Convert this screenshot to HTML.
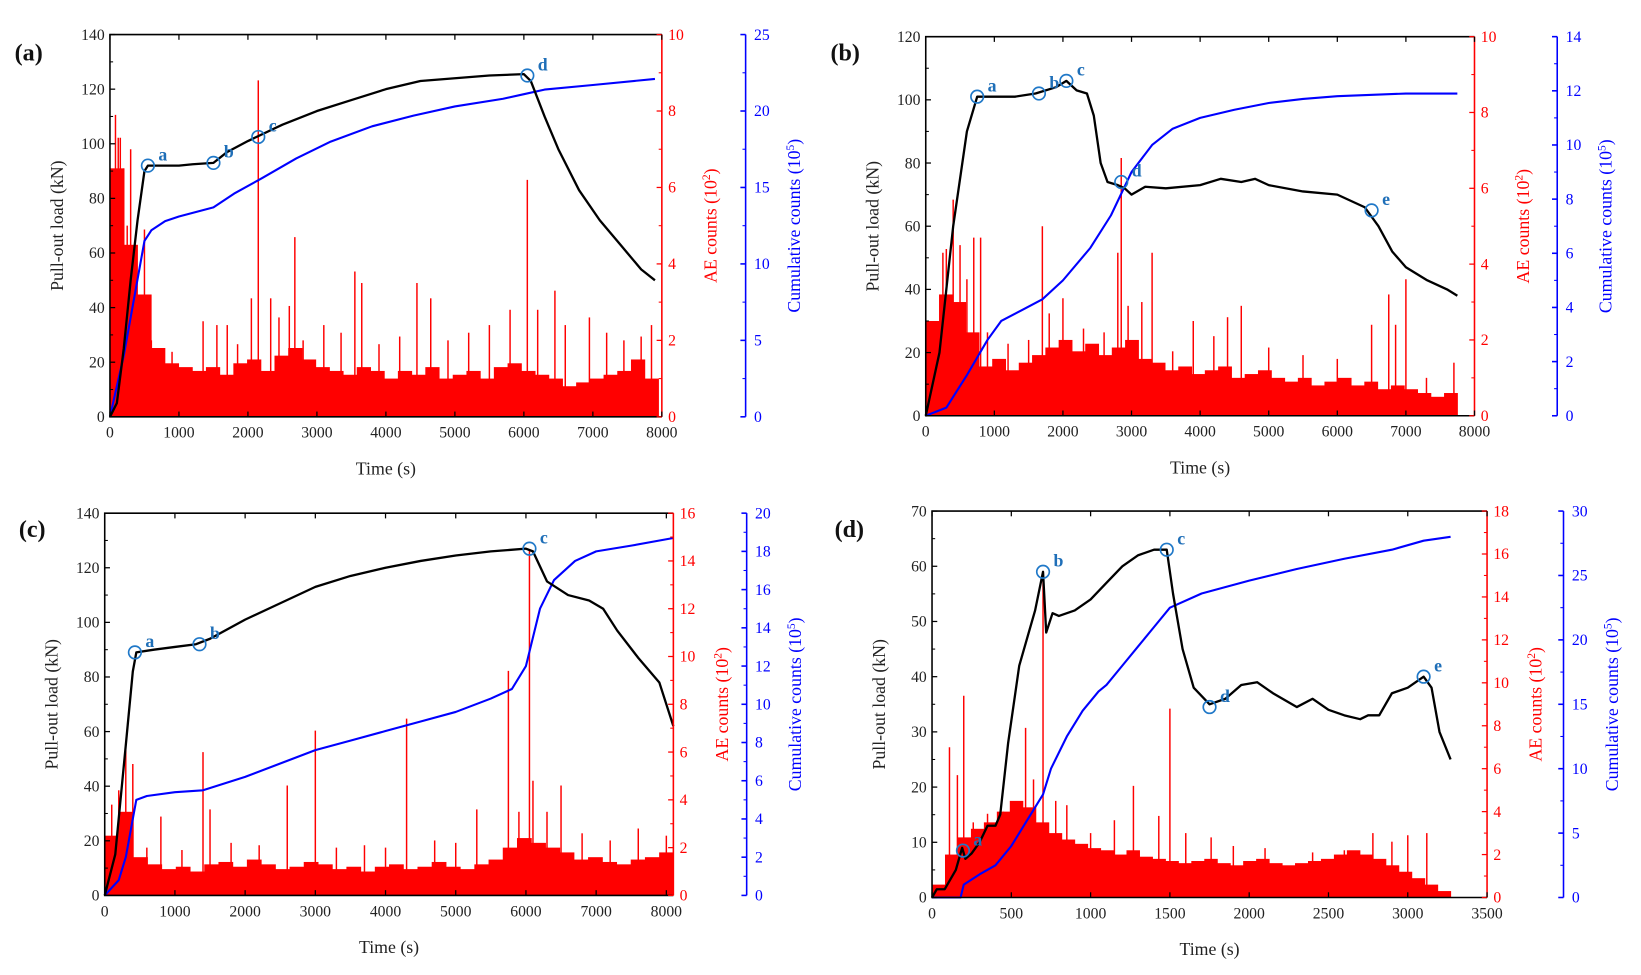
<!DOCTYPE html>
<html><head><meta charset="utf-8">
<style>
html,body{margin:0;padding:0;background:#fff;}
svg{display:block;font-family:"Liberation Serif",serif;}
</style></head>
<body>
<svg id="fig" width="1641" height="975" viewBox="0 0 1567 931" preserveAspectRatio="none"></svg>
<script>
// ---------- Panel (a) data ----------
const aLoad = [[0,0],[100,5],[200,25],[300,50],[400,72],[500,90],[550,92],[800,92],[1000,92],[1200,92.5],[1500,93],[1700,97],[2000,101],[2500,107],[3000,112],[3500,116],[4000,120],[4500,123],[5000,124],[5500,125],[6000,125.5],[6100,123],[6300,110],[6500,98],[6800,83],[7100,72],[7400,63],[7700,54],[7900,50]];
const aCum = [[0,0],[100,2],[200,4],[300,6.5],[400,9],[500,11.5],[600,12.2],[800,12.8],[1000,13.1],[1500,13.7],[1800,14.6],[2200,15.6],[2700,16.9],[3200,18],[3800,19],[4400,19.7],[5000,20.3],[5700,20.8],[6000,21.1],[6300,21.4],[7000,21.7],[7900,22.1]];
const aBase = [6.5,4.5,3.2,1.8,1.4,1.3,1.2,1.3,1.1,1.4,1.5,1.2,1.6,1.8,1.5,1.3,1.2,1.1,1.3,1.2,1.0,1.2,1.1,1.3,1.0,1.1,1.2,1.0,1.3,1.4,1.2,1.1,1.0,0.8,0.9,1.0,1.1,1.2,1.5,1.0];
const aSpikes = [[40,5.5],[80,7.9],[120,7.3],[150,7.3],[200,6.5],[250,5.0],[300,7.0],[350,4.0],[500,4.9],[600,2.0],[750,1.8],[900,1.7],[1350,2.5],[1550,2.4],[1700,2.4],[1850,1.9],[2050,3.1],[2150,8.8],[2330,3.1],[2450,2.6],[2600,2.9],[2680,4.7],[2800,2.0],[3100,2.4],[3350,2.2],[3550,3.8],[3650,3.5],[3900,1.9],[4200,2.1],[4450,3.5],[4650,3.1],[4900,2.0],[5200,2.2],[5500,2.4],[5800,2.8],[6050,6.2],[6200,2.8],[6450,3.3],[6600,2.4],[6950,2.6],[7200,2.2],[7450,2.0],[7700,2.1],[7850,2.4]];
const aMarks = [["a",550,92],["b",1500,93],["c",2150,102.5],["d",6050,125]];
const aLeftTicks = [0,20,40,60,80,100,120,140];
const aRedTicks = [0,2,4,6,8,10];
const aBlueTicks = [0,5,10,15,20,25];
const aXTicks = [0,1000,2000,3000,4000,5000,6000,7000,8000];

// ---------- Panel (b) data ----------
const bLoad = [[0,0],[200,20],[400,60],[600,90],[750,101],[1000,101],[1300,101],[1600,102],[1900,104],[2050,106],[2200,103],[2350,102],[2450,95],[2550,80],[2650,74],[2800,73],[2900,72],[3000,70],[3200,72.5],[3500,72],[4000,73],[4300,75],[4600,74],[4800,75],[5000,73],[5500,71],[6000,70],[6400,66],[6600,60],[6800,52],[7000,47],[7300,43],[7600,40],[7750,38]];
const bCum = [[0,0],[300,0.3],[600,1.5],[900,2.8],[1100,3.5],[1400,3.9],[1700,4.3],[2000,5],[2400,6.2],[2700,7.4],[3000,9],[3300,10],[3600,10.6],[4000,11],[4500,11.3],[5000,11.55],[5500,11.7],[6000,11.8],[7000,11.9],[7750,11.9]];
const bBase = [2.5,3.2,3.0,2.2,1.3,1.5,1.2,1.4,1.6,1.8,2.0,1.7,1.9,1.6,1.8,2.0,1.5,1.4,1.2,1.3,1.1,1.2,1.3,1.0,1.1,1.2,1.0,0.9,1.0,0.8,0.9,1.0,0.8,0.9,0.7,0.8,0.7,0.6,0.5,0.6];
const bSpikes = [[100,1.6],[250,4.3],[300,4.4],[400,5.7],[500,4.5],[600,3.6],[700,4.7],[800,4.7],[900,2.2],[1200,1.9],[1500,2.0],[1700,5],[1800,2.7],[2000,3.1],[2300,2.3],[2600,2.2],[2800,4.3],[2850,6.8],[2950,2.9],[3150,3.0],[3300,4.3],[3600,1.7],[3900,2.5],[4200,2.1],[4400,2.6],[4600,2.9],[5000,1.8],[5500,1.6],[6000,1.5],[6500,2.4],[6750,3.2],[6850,2.4],[7000,3.6],[7300,1.0],[7700,1.4]];
const bMarks = [["a",750,101],["b",1650,102],["c",2050,106],["d",2850,74],["e",6500,65]];
const bLeftTicks = [0,20,40,60,80,100,120];
const bRedTicks = [0,2,4,6,8,10];
const bBlueTicks = [0,2,4,6,8,10,12,14];
const bXTicks = [0,1000,2000,3000,4000,5000,6000,7000,8000];

// ---------- Panel (c) data ----------
const cLoad = [[0,0],[150,15],[300,55],[400,82],[450,89],[700,90],[1000,91],[1300,92],[1500,94],[2000,101],[2500,107],[3000,113],[3500,117],[4000,120],[4500,122.5],[5000,124.5],[5500,126],[6000,127],[6100,126],[6300,115],[6600,110],[6900,108],[7100,105],[7300,97],[7600,87],[7900,78],[8100,62]];
const cCum = [[0,0],[200,0.8],[300,2],[400,4],[450,5],[600,5.2],[1000,5.4],[1400,5.5],[2000,6.2],[2500,6.9],[3000,7.6],[3500,8.1],[4000,8.6],[4500,9.1],[5000,9.6],[5500,10.3],[5800,10.8],[6000,12],[6200,15],[6400,16.5],[6700,17.5],[7000,18],[7500,18.3],[8100,18.7]];
const cBase = [2.5,3.5,1.6,1.3,1.1,1.2,1.0,1.3,1.4,1.2,1.5,1.3,1.1,1.2,1.4,1.3,1.1,1.2,1.0,1.2,1.3,1.1,1.2,1.4,1.2,1.1,1.3,1.5,2.0,2.4,2.2,2.0,1.8,1.5,1.6,1.4,1.3,1.5,1.6,1.8];
const cSpikes = [[100,3.8],[200,4.4],[300,6.2],[400,5.5],[600,2.0],[800,3.3],[1100,1.9],[1400,6],[1500,3.6],[1800,2.2],[2200,2.1],[2600,4.6],[3000,6.9],[3300,2.0],[3700,2.1],[4000,2.0],[4300,7.4],[4700,2.3],[5000,2.2],[5300,3.6],[5750,9.4],[5900,3.5],[6050,14.5],[6100,4.8],[6300,3.5],[6500,4.6],[6800,2.6],[7200,2.3],[7600,2.8],[8000,2.5]];
const cMarks = [["a",430,89],["b",1350,92],["c",6050,127]];
const cLeftTicks = [0,20,40,60,80,100,120,140];
const cRedTicks = [0,2,4,6,8,10,12,14,16];
const cBlueTicks = [0,2,4,6,8,10,12,14,16,18,20];
const cXTicks = [0,1000,2000,3000,4000,5000,6000,7000,8000];

// ---------- Panel (d) data ----------
const dLoad = [[0,0],[30,1.5],[80,1.5],[150,5],[190,9],[210,7],[250,8],[300,10],[350,13],[400,13],[430,15],[480,28],[550,42],[650,52],[700,59],[720,48],[760,51.5],[800,51],[900,52],[1000,54],[1100,57],[1200,60],[1300,62],[1400,63],[1480,63],[1520,55],[1580,45],[1650,38],[1750,35],[1850,36],[1950,38.5],[2050,39],[2150,37],[2300,34.5],[2400,36],[2500,34],[2600,33],[2700,32.3],[2750,33],[2820,33],[2900,37],[3000,38],[3100,40],[3150,38],[3200,30],[3270,25]];
const dCum = [[0,0],[180,0],[200,1],[300,1.8],[400,2.5],[500,4],[600,6],[700,8],[750,10],[850,12.5],[950,14.5],[1050,16],[1100,16.5],[1200,18],[1300,19.5],[1400,21],[1500,22.5],[1700,23.6],[2000,24.6],[2300,25.5],[2600,26.3],[2900,27],[3100,27.7],[3270,28]];
const dBase = [0.6,2.0,2.8,3.2,3.5,4.0,4.5,4.2,3.5,3.0,2.7,2.5,2.3,2.2,2.0,2.2,1.9,1.8,1.7,1.6,1.7,1.8,1.6,1.5,1.7,1.8,1.6,1.5,1.6,1.7,1.8,2.0,2.2,2.0,1.8,1.5,1.2,0.9,0.6,0.3];
const dSpikes = [[110,7],[160,5.7],[200,9.4],[260,3.5],[350,3.9],[450,4.0],[590,7.9],[640,5.5],[700,15.2],[780,4.5],[850,4.3],[1000,3.0],[1150,3.6],[1270,5.2],[1430,3.8],[1500,8.8],[1600,3.0],[1760,2.8],[1900,2.4],[2100,2.3],[2400,2.1],[2600,2.2],[2780,3],[2900,2.6],[3000,2.9],[3120,3]];
const dMarks = [["a",195,8.5],["b",700,59],["c",1480,63],["d",1750,34.5],["e",3100,40]];
const dLeftTicks = [0,10,20,30,40,50,60,70];
const dRedTicks = [0,2,4,6,8,10,12,14,16,18];
const dBlueTicks = [0,5,10,15,20,25,30];
const dXTicks = [0,500,1000,1500,2000,2500,3000,3500];

const NS = "http://www.w3.org/2000/svg";
const svg = document.getElementById("fig");
function mk(tag, attrs, parent){
  const e = document.createElementNS(NS, tag);
  for (const k in attrs) e.setAttribute(k, attrs[k]);
  (parent||svg).appendChild(e);
  return e;
}

function drawPanel(P){
  const g = mk("g", {});
  
  
  const xs = t => P.x0 + t / P.xmax * (P.x1 - P.x0);
  const yL = v => P.y1 - v / P.lmax * (P.y1 - P.y0);
  const yR = v => P.y1 - v / P.rmax * (P.y1 - P.y0);
  const yB = v => P.y1 - v / P.bmax * (P.y1 - P.y0);

  const n = P.base.length, bw = P.tEnd / n;
  P.base.forEach((v, i) => {
    const xa = xs(i * bw), xb = xs((i + 1) * bw);
    const r = mk("rect", {x: xa, y: yR(v), width: xb - xa + 0.5, height: P.y1 - yR(v), fill: "#ff0000"}, g);
    
    
  });
  P.spikes.forEach(s => {
    const l = mk("line", {x1: xs(s[0]), x2: xs(s[0]), y1: P.y1, y2: yR(s[1]), stroke: "#ff0000", "stroke-width": 1.4}, g);
    
    
  });

  const cp = mk("polyline", {points: P.cum.map(p => xs(p[0]) + "," + yB(p[1])).join(" "), fill: "none", stroke: "#0000ff", "stroke-width": 2, "stroke-linejoin": "round"}, g);
  
  
  const lp = mk("polyline", {points: P.load.map(p => xs(p[0]) + "," + yL(p[1])).join(" "), fill: "none", stroke: "#000", "stroke-width": 2.2, "stroke-linejoin": "round"}, g);
  
  

  P.marks.forEach(m => {
    const c = mk("circle", {cx: xs(m[1]), cy: yL(m[2]), r: 6, fill: "none", stroke: "#1f78c8", "stroke-width": 1.6}, g);
    
    
    const t = mk("text", {x: xs(m[1]) + 10, y: yL(m[2]) - 5, fill: "#1f6fb8", "font-size": 17, "font-weight": "bold"}, g);
    t.textContent = m[0];
    
    
  });

  const fr = mk("path", {d: `M${P.x1},${P.y1} L${P.x0},${P.y1} L${P.x0},${P.y0} L${P.x1},${P.y0}`, fill: "none", stroke: "#000", "stroke-width": 1.5}, g);
  
  
  const rs = mk("line", {x1: P.x1, x2: P.x1, y1: P.y0, y2: P.y1, stroke: "#ff0000", "stroke-width": 1.5}, g);
  
  
  const bs = mk("line", {x1: P.xb, x2: P.xb, y1: P.y0, y2: P.y1, stroke: "#0000ff", "stroke-width": 1.5}, g);
  
  

  P.lt.forEach((v, i) => {
    mk("line", {x1: P.x0, x2: P.x0 + 5, y1: yL(v), y2: yL(v), stroke: "#000", "stroke-width": 1.2}, g);
    if (i > 0) { const h = (v + P.lt[i-1]) / 2; mk("line", {x1: P.x0, x2: P.x0 + 3, y1: yL(h), y2: yL(h), stroke: "#000"}, g); }
    const t = mk("text", {x: P.x0 - 5, y: yL(v) + 5, "text-anchor": "end", "font-size": 15, fill: "#222"}, g);
    t.textContent = v;
    
    
  });
  P.rt.forEach((v, i) => {
    mk("line", {x1: P.x1, x2: P.x1 - 5, y1: yR(v), y2: yR(v), stroke: "#ff0000", "stroke-width": 1.2}, g);
    if (i > 0) { const h = (v + P.rt[i-1]) / 2; mk("line", {x1: P.x1, x2: P.x1 - 3, y1: yR(h), y2: yR(h), stroke: "#ff0000"}, g); }
    const t = mk("text", {x: P.x1 + 6, y: yR(v) + 5, "font-size": 15, fill: "#ff0000"}, g);
    t.textContent = v;
    
    
  });
  P.bt.forEach((v, i) => {
    mk("line", {x1: P.xb, x2: P.xb - 5, y1: yB(v), y2: yB(v), stroke: "#0000ff", "stroke-width": 1.5}, g);
    if (i > 0) { const h = (v + P.bt[i-1]) / 2; mk("line", {x1: P.xb, x2: P.xb - 3, y1: yB(h), y2: yB(h), stroke: "#0000ff"}, g); }
    const t = mk("text", {x: P.xb + 8, y: yB(v) + 5, "font-size": 15, fill: "#0000ff"}, g);
    t.textContent = v;
    
    
  });
  P.xt.forEach(v => {
    mk("line", {x1: xs(v), x2: xs(v), y1: P.y1, y2: P.y1 - 5, stroke: "#000", "stroke-width": 1.2}, g);
    mk("line", {x1: xs(v), x2: xs(v), y1: P.y0, y2: P.y0 + 5, stroke: "#000", "stroke-width": 1.2}, g);
    const t = mk("text", {x: xs(v), y: P.y1 + 20, "text-anchor": "middle", "font-size": 15, fill: "#222"}, g);
    t.textContent = v;
    
    
  });

  const cy = (P.y0 + P.y1) / 2;
  const lt = mk("text", {x: P.x0 - 45, y: cy, transform: `rotate(-90 ${P.x0-45} ${cy})`, "text-anchor": "middle", "font-size": 17, fill: "#222"}, g);
  lt.textContent = "Pull-out load (kN)";
  
  
  const rx = P.x1 + 52;
  const rt = mk("text", {x: rx, y: cy, transform: `rotate(-90 ${rx} ${cy})`, "text-anchor": "middle", "font-size": 17, fill: "#ff0000"}, g);
  rt.innerHTML = 'AE counts (10<tspan dy="-6" font-size="11">2</tspan><tspan dy="6">)</tspan>';
  
  
  const bx = P.xb + 52;
  const bt = mk("text", {x: bx, y: cy, transform: `rotate(-90 ${bx} ${cy})`, "text-anchor": "middle", "font-size": 17, fill: "#0000ff"}, g);
  bt.innerHTML = 'Cumulative counts (10<tspan dy="-6" font-size="11">5</tspan><tspan dy="6">)</tspan>';
  
  
  const xt = mk("text", {x: (P.x0 + P.x1) / 2, y: P.y1 + 55, "text-anchor": "middle", "font-size": 17, fill: "#222"}, g);
  xt.textContent = "Time (s)";
  
  
  const pl = mk("text", {x: P.lx, y: P.ly, "font-size": 23, "font-weight": "bold", fill: "#111"}, g);
  pl.textContent = "(" + P.id + ")";
  
  
}

drawPanel({id:"a", x0:105, x1:632, y0:33, y1:398, xb:712, xmax:8000, tEnd:7950, lmax:140, rmax:10, bmax:25,
  load:aLoad, cum:aCum, base:aBase, spikes:aSpikes, marks:aMarks, lt:aLeftTicks, rt:aRedTicks, bt:aBlueTicks, xt:aXTicks, lx:14, ly:58});
drawPanel({id:"b", x0:884, x1:1408, y0:35, y1:397, xb:1487, xmax:8000, tEnd:7750, lmax:120, rmax:10, bmax:14,
  load:bLoad, cum:bCum, base:bBase, spikes:bSpikes, marks:bMarks, lt:bLeftTicks, rt:bRedTicks, bt:bBlueTicks, xt:bXTicks, lx:793, ly:58});
drawPanel({id:"c", x0:100, x1:643, y0:490, y1:855, xb:713, xmax:8100, tEnd:8100, lmax:140, rmax:16, bmax:20,
  load:cLoad, cum:cCum, base:cBase, spikes:cSpikes, marks:cMarks, lt:cLeftTicks, rt:cRedTicks, bt:cBlueTicks, xt:cXTicks, lx:18, ly:513});
drawPanel({id:"d", x0:890, x1:1420, y0:488, y1:857, xb:1493, xmax:3500, tEnd:3270, lmax:70, rmax:18, bmax:30,
  load:dLoad, cum:dCum, base:dBase, spikes:dSpikes, marks:dMarks, lt:dLeftTicks, rt:dRedTicks, bt:dBlueTicks, xt:dXTicks, lx:797, ly:513});
</script>
</body></html>
